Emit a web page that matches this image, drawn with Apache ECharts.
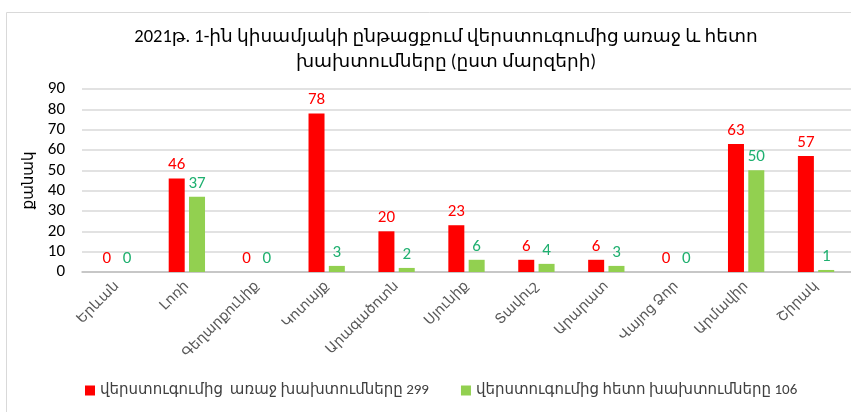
<!DOCTYPE html>
<html>
<head>
<meta charset="utf-8">
<script src="https://cdn.jsdelivr.net/npm/echarts@6/dist/echarts.min.js"></script>
<style>
  html, body { margin: 0; padding: 0; background: #fff; }
  #chart { width: 851px; height: 412px; }
</style>
</head>
<body>
<div id="chart"></div>
<script>
const categories = ['Երևան', 'Լոռի', 'Գեղարքունիք', 'Կոտայք', 'Արագածոտն', 'Սյունիք', 'Տավուշ', 'Արարատ', 'Վայոց Ձոր', 'Արմավիր', 'Շիրակ'];
const beforeData = [0, 46, 0, 78, 20, 23, 6, 6, 0, 63, 57];
const afterData = [0, 37, 0, 3, 2, 6, 4, 3, 0, 50, 1];
const seriesNames = ['վերստուգումից  առաջ խախտումները 299', 'վերստուգումից հետո խախտումները 106'];
const yTicks = { min: 0, max: 90, interval: 10 };

const font = 'Carlito, "Noto Sans", "DejaVu Sans", sans-serif';

const myChart = echarts.init(document.querySelector('#chart'));

const option = {
  animation: false,
  textStyle: { fontFamily: font },
  graphic: [
    {
      type: 'rect',
      left: 4,
      top: 10,
      shape: { width: 900, height: 500 },
      style: { fill: 'none', stroke: '#d9d9d9', lineWidth: 1 },
      silent: true
    }
  ],
  title: {
    text: '2021թ. 1-ին կիսամյակի ընթացքում վերստուգումից առաջ և հետո\nխախտումները (ըստ մարզերի)',
    left: 441,
    textAlign: 'center',
    top: 20,
    textStyle: {
      fontFamily: font,
      fontSize: 18.5,
      fontWeight: 'normal',
      color: '#000',
      lineHeight: 25
    }
  },
  legend: {
    bottom: 9,
    left: 80,
    itemWidth: 10,
    itemHeight: 10,
    itemGap: 32,
    icon: 'rect',
    textStyle: { fontFamily: font, fontSize: 15, color: '#404040' },
    data: seriesNames
  },
  grid: {
    left: 82,
    right: 0,
    top: 89,
    bottom: 140
  },
  xAxis: {
    type: 'category',
    data: categories,
    axisLine: { lineStyle: { color: '#bfbfbf', width: 1.5 } },
    axisTick: { alignWithLabel: true, length: 5, lineStyle: { color: '#bfbfbf' } },
    axisLabel: {
      rotate: 45,
      interval: 0,
      margin: 12,
      fontFamily: font,
      fontSize: 14,
      color: '#595959'
    }
  },
  yAxis: {
    type: 'value',
    min: yTicks.min,
    max: yTicks.max,
    interval: yTicks.interval,
    name: 'քանակ',
    nameLocation: 'middle',
    nameRotate: 90,
    nameGap: 42,
    nameTextStyle: { fontFamily: font, fontSize: 15, color: '#000' },
    axisLine: { show: false },
    axisTick: { show: false },
    axisLabel: { fontFamily: font, fontSize: 17, color: '#000', margin: 17 },
    splitLine: { lineStyle: { color: '#d9d9d9', width: 1.5 } }
  },
  series: [
    {
      name: seriesNames[0],
      type: 'bar',
      data: beforeData,
      barWidth: 16,
      barGap: '27%',
      itemStyle: { color: '#ff0000' },
      label: {
        show: true,
        position: 'top',
        distance: 5,
        fontFamily: font,
        fontSize: 17,
        color: '#ff0000'
      }
    },
    {
      name: seriesNames[1],
      type: 'bar',
      data: afterData,
      barWidth: 16,
      barGap: '27%',
      itemStyle: { color: '#92d050' },
      label: {
        show: true,
        position: 'top',
        distance: 5,
        fontFamily: font,
        fontSize: 17,
        color: '#1fb070'
      }
    }
  ]
};

myChart.setOption(option);

window.addEventListener('resize', function() {
  myChart.resize();
});
</script>
</body>
</html>
